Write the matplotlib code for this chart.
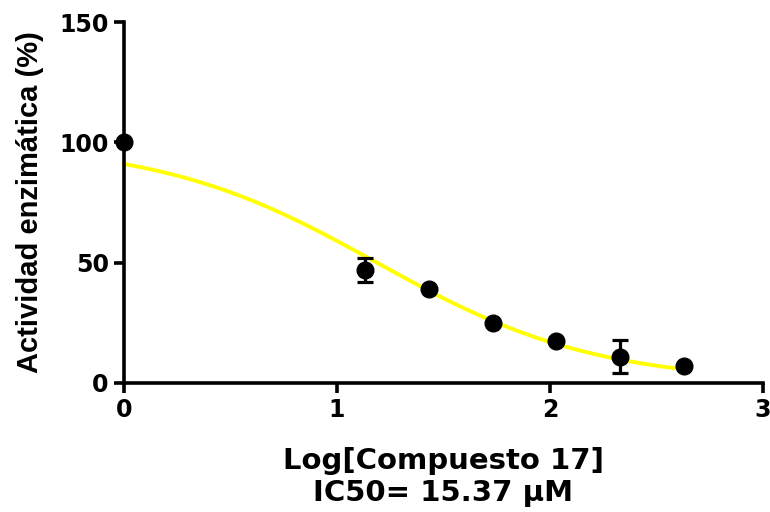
import numpy as np
import matplotlib
matplotlib.use("Agg")
import matplotlib.pyplot as plt

# Log concentration of compound 17 and measured enzyme activity (mean ± SD)
log_conc = [0.0, 1.13, 1.43, 1.73, 2.03, 2.33, 2.63]
activity = [100.0, 47.0, 39.0, 25.0, 17.5, 11.0, 7.0]
activity_sd = [0.0, 5.0, 0.0, 0.0, 0.0, 7.0, 0.0]

# Four-parameter logistic fit parameters
fit_top = 100.0
fit_bottom = 0.0
ic50_um = 15.37
hill = 0.847

x_ticks = [0, 1, 2, 3]
y_ticks = [0, 50, 100, 150]

wide_bold = ['DejaVu Sans']
narrow_bold = ['Liberation Sans', 'DejaVu Sans']

fig = plt.figure(figsize=(7.7, 5.12), dpi=100)
ax = fig.add_axes([0.161, 0.252, 0.830, 0.705])

xs = np.linspace(min(log_conc), max(log_conc), 300)
log_ic50 = np.log10(ic50_um)
ys = fit_bottom + (fit_top - fit_bottom) / (1 + 10 ** ((xs - log_ic50) * hill))
ax.plot(xs, ys, color='#FFFF00', lw=2.8, zorder=2, clip_on=False)

ax.errorbar(log_conc, activity, yerr=activity_sd, fmt='o', color='black',
            markersize=12, elinewidth=2.3, capsize=6, capthick=2.3,
            zorder=3, clip_on=False)

ax.set_xlim(0, 3)
ax.set_ylim(0, 150)
ax.set_xticks(x_ticks)
ax.set_yticks(y_ticks)

for side in ['top', 'right']:
    ax.spines[side].set_visible(False)
for side in ['left', 'bottom']:
    ax.spines[side].set_linewidth(2.6)

ax.tick_params(axis='both', width=2.6, length=7, labelsize=17, pad=4)
for lab in ax.get_xticklabels() + ax.get_yticklabels():
    lab.set_fontweight('bold')
    lab.set_family(wide_bold)

ax.set_ylabel('Actividad enzimática (%)', fontsize=21, fontweight='bold',
              family=narrow_bold, labelpad=11)
ax.set_xlabel('Log[Compuesto 17]\nIC50= 15.37 μM', fontsize=21,
              fontweight='bold', family=wide_bold, linespacing=1.15, labelpad=18)

fig.savefig('out.png', dpi=100)
